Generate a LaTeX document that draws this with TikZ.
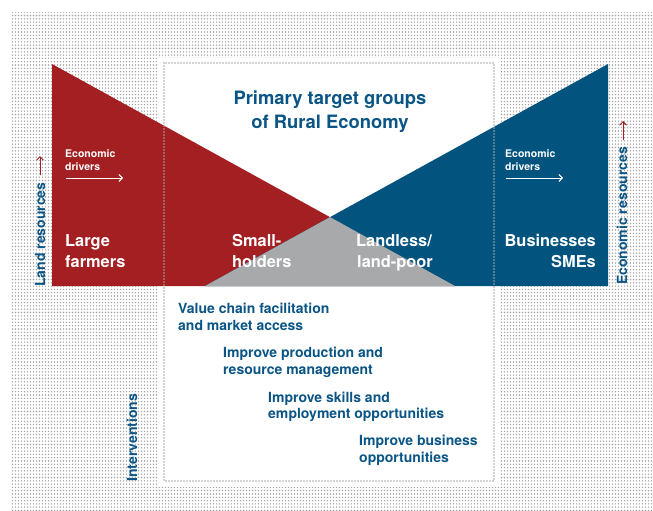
\documentclass[tikz,border=0pt]{standalone}
\usepackage{fontspec}
\setmainfont{TeX Gyre Heros}
\usetikzlibrary{arrows.meta,patterns}
\definecolor{rered}{HTML}{A31F22}
\definecolor{reblue}{HTML}{03537F}
\definecolor{txtblue}{HTML}{0A5585}
\definecolor{regray}{HTML}{A7A9AB}
\definecolor{dotgray}{HTML}{A4A4A4}
\definecolor{framegray}{HTML}{A8A8A8}
\pgfdeclarepatternformonly{bgdots}{\pgfqpoint{-1pt}{-1pt}}{\pgfqpoint{2pt}{2pt}}{\pgfqpoint{3pt}{3.3pt}}{\pgfpathcircle{\pgfqpoint{0.5pt}{0.5pt}}{0.78pt}\pgfusepath{fill}}
\begin{document}
\begin{tikzpicture}[x=1pt,y=-1pt,
  titletxt/.style={text=txtblue, inner sep=0pt, font=\bfseries\fontsize{18.4}{24}\selectfont},
  grp/.style={text=white, inner sep=0pt, font=\bfseries\fontsize{16.4}{21}\selectfont},
  drv/.style={text=white, inner sep=0pt, font=\bfseries\fontsize{10.5}{13}\selectfont},
  itv/.style={text=txtblue, inner sep=0pt, anchor=base west, font=\bfseries\fontsize{14}{17}\selectfont},
  side/.style={text=txtblue, inner sep=0pt, anchor=base west, rotate=90, font=\bfseries\fontsize{14}{17}\selectfont},
  whitearrow/.style={white, line width=0.9pt, -{Straight Barb[length=3.5pt,width=7pt]}},
  redarrow/.style={rered, line width=1pt, -{Straight Barb[length=3.5pt,width=7pt]}},
  dotborder/.style={framegray, line width=1.6pt, line cap=round, dash pattern=on 0pt off 3pt}
]
\useasboundingbox (0,0) rectangle (653,511);
% dotted background
\fill[pattern=bgdots, pattern color=dotgray] (11,13) rectangle (653,511);
\fill[white] (158,58) rectangle (500,487);
% triangles
\fill[rered] (52,64) -- (52,286) -- (455,286) -- cycle;
\fill[reblue] (608,64) -- (608,286) -- (205,286) -- cycle;
\fill[regray] (330,217.1) -- (455,286) -- (205,286) -- cycle;
% dotted frame
\draw[dotborder] (164,63) rectangle (494,481);
% title
\node[titletxt, anchor=base] (t1) at (330,104) {Primary target groups};
\node[titletxt, anchor=base] (t2) at (330,128) {of Rural Economy};
% economic drivers
\node[drv, anchor=base west] (dl1) at (65,157) {Economic};
\node[drv, anchor=base west] (dl2) at (65,170) {drivers};
\coordinate (dla) at (66,178);
\coordinate (dlb) at (123,178);
\draw[whitearrow] (dla) -- (dlb);
\node[drv, anchor=base west] (dr1) at (505,157) {Economic};
\node[drv, anchor=base west] (dr2) at (505,170) {drivers};
\coordinate (dra) at (506,178);
\coordinate (drb) at (563,178);
\draw[whitearrow] (dra) -- (drb);
% groups
\node[grp, anchor=base west] (g1a) at (65,246) {Large};
\node[grp, anchor=base west] (g1b) at (65,267) {farmers};
\node[grp, anchor=base west] (g2a) at (232,246) {Small-};
\node[grp, anchor=base west] (g2b) at (232,267) {holders};
\node[grp, anchor=base west] (g3a) at (356,246) {Landless/};
\node[grp, anchor=base west] (g3b) at (357,267) {land-poor};
\node[grp, anchor=base east] (g4a) at (596,246) {Businesses};
\node[grp, anchor=base east] (g4b) at (596,267) {SMEs};
% side labels
\node[side] (lr) at (45,287) {Land resources};
\coordinate (lra) at (40,175);
\coordinate (lrb) at (40,156);
\draw[redarrow] (lra) -- (lrb);
\node[side] (er) at (627,285) {Economic resources};
\coordinate (era) at (623,140);
\coordinate (erb) at (623,121);
\draw[redarrow] (era) -- (erb);
\node[side] (iv) at (137,482) {Interventions};
% interventions
\node[itv] (i1a) at (178,313) {Value chain facilitation};
\node[itv] (i1b) at (178,330) {and market access};
\node[itv] (i2a) at (223,357) {Improve production and};
\node[itv] (i2b) at (223,374) {resource management};
\node[itv] (i3a) at (268,402) {Improve skills and};
\node[itv] (i3b) at (268,418) {employment opportunities};
\node[itv] (i4a) at (359,445) {Improve business};
\node[itv] (i4b) at (359,462) {opportunities};
\end{tikzpicture}
\end{document}
